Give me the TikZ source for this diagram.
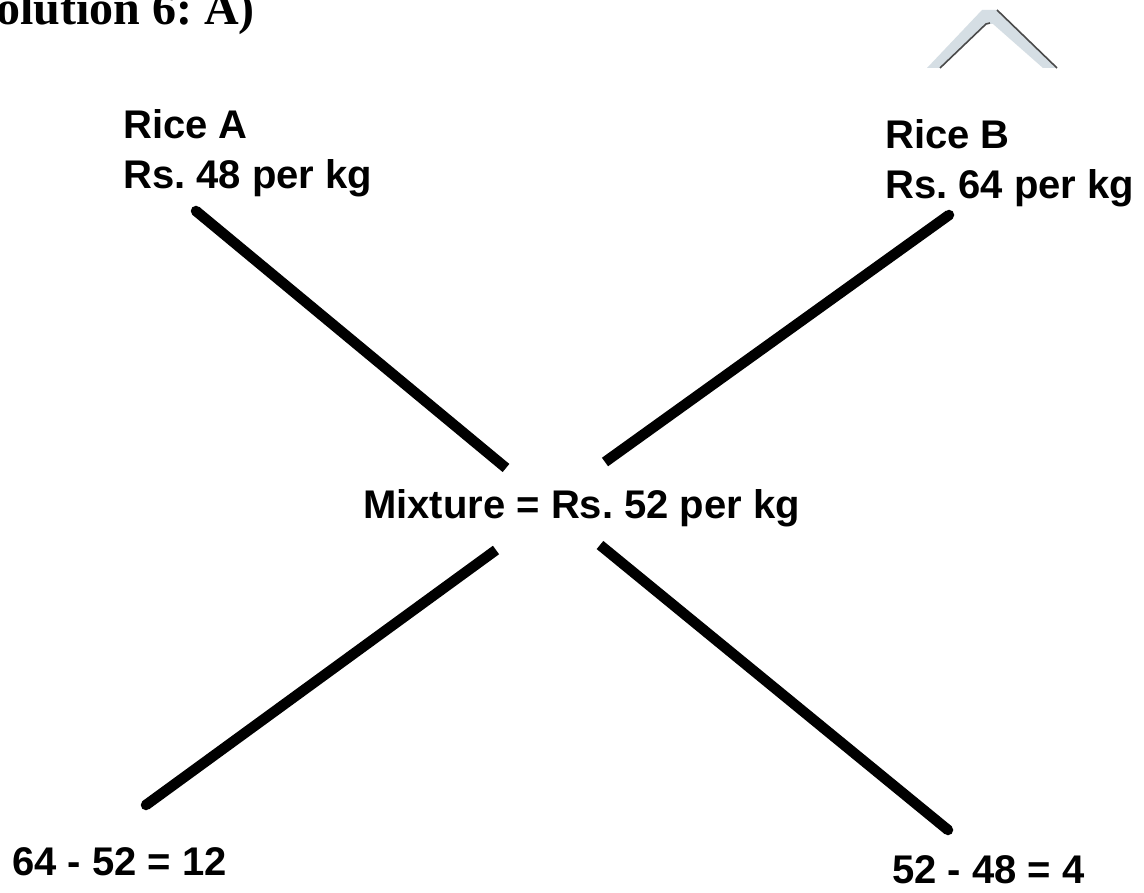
\documentclass[tikz,border=0pt]{standalone}
\usepackage{fontspec}
\setmainfont{Liberation Sans}
\newfontfamily\titlefont{Liberation Serif}
\definecolor{chevfill}{HTML}{D5DEE4}
\definecolor{chevedge}{HTML}{4A4A4A}
\tikzset{
  lab/.style={font=\bfseries\fontsize{40}{50}\selectfont, inner sep=0pt, align=left, text=black},
  heavy/.style={line width=10.5pt, line cap=butt, draw=black},
  capdot/.style={fill=black},
  chevline/.style={draw=chevedge, line width=1.6pt},
}
\frenchspacing
\begin{document}
\frenchspacing
\begin{tikzpicture}[x=1pt,y=-1pt]
\useasboundingbox (0,0) rectangle (1144,893);
\clip (0,0) rectangle (1144,893);
\fill[white] (0,0) rectangle (1144,893);

% title (cropped at the left and top edge, as in the reference)
\node[font=\titlefont\bfseries\fontsize{48}{56}\selectfont, anchor=base east, inner sep=0pt] (title) at (255,25) {Solution 6: A)};

% chevron at top right
\fill[chevfill] (927,68) -- (982,10) -- (997,10) -- (1057,68) -- (1043,68) -- (993,24) -- (986,24) -- (940,68) -- cycle;
\draw[chevline] (940,68) -- (986,24) -- (990,23);
\draw[chevline] (997,10) -- (1057,68);

% labels
\node[lab, anchor=north west] (riceA) at (123,109) {Rice A\\Rs. 48 per kg};
\node[lab, anchor=north west] (riceB) at (885,119) {Rice B\\Rs. 64 per kg};
\node[lab, anchor=base west] (mix) at (363,518) {Mixture = Rs. 52 per kg};
\node[lab, anchor=base west] (diffA) at (12,875) {64 - 52 = 12};
\node[lab, anchor=base west] (diffB) at (892,883) {52 - 48 = 4};

% line end points
\coordinate (a1) at (196,211);
\coordinate (a2) at (506,468);
\coordinate (b1) at (949,215);
\coordinate (b2) at (605,462);
\coordinate (c1) at (496,550);
\coordinate (c2) at (146,805);
\coordinate (d1) at (600,545);
\coordinate (d2) at (948,830);

\draw[heavy] (a1) -- (a2);
\draw[heavy] (b1) -- (b2);
\draw[heavy] (c1) -- (c2);
\draw[heavy] (d1) -- (d2);
\fill[capdot] (a1) circle (5.25pt);
\fill[capdot] (b1) circle (5.25pt);
\fill[capdot] (c2) circle (5.25pt);
\fill[capdot] (d2) circle (5.25pt);
\end{tikzpicture}
\end{document}
